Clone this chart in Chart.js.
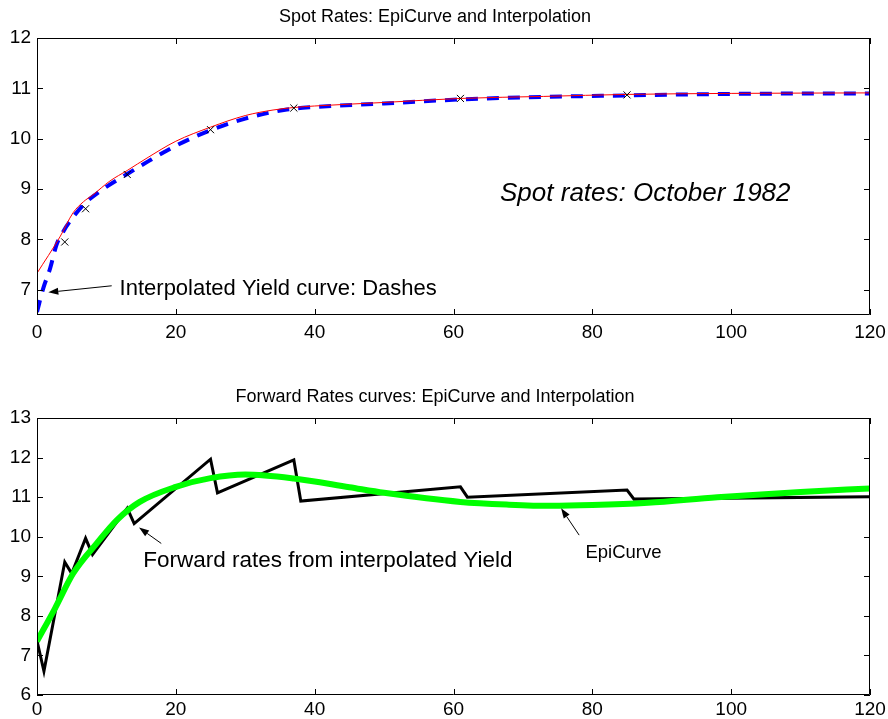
<!DOCTYPE html>
<html>
<head>
<meta charset="utf-8">
<script src="https://cdn.jsdelivr.net/npm/chart.js@4.4.0/dist/chart.umd.min.js"></script>
<style>
  body { margin: 0; background: #fff; }
  .wrap { position: absolute; left: 0; width: 888px; }
  #spotWrap { top: 0; height: 350px; }
  #fwdWrap { top: 350px; height: 369px; }
</style>
</head>
<body>
<div class="wrap" id="spotWrap"><canvas id="spotChart"></canvas></div>
<div class="wrap" id="fwdWrap"><canvas id="fwdChart"></canvas></div>
<script>
// maturities in months, rates in percent
const marketT = [4, 7, 13, 25, 37, 61, 85];
const marketRate = [7.95, 8.61, 9.29, 10.18, 10.61, 10.80, 10.87];

const epiSpotT = [0, 3.3, 5.2, 6.7, 8, 10.5, 13, 16, 20, 25, 30, 34, 37, 40, 50, 61, 73, 85, 100, 120];
const epiSpotRate = [7.33, 8.05, 8.53, 8.75, 8.88, 9.16, 9.37, 9.63, 9.95, 10.23, 10.46, 10.57, 10.62, 10.65, 10.72, 10.80, 10.84, 10.88, 10.90, 10.91];

const interpSpotT = [0, 0.9, 1.9, 2.8, 3.8, 4.75, 6.7, 9.1, 13, 16, 20, 25, 30, 36, 40, 50, 61, 73, 85, 100, 120];
const interpSpotRate = [6.56, 7.03, 7.43, 7.89, 8.16, 8.36, 8.69, 8.96, 9.30, 9.55, 9.86, 10.17, 10.40, 10.58, 10.63, 10.70, 10.78, 10.83, 10.86, 10.89, 10.90];

const epiFwdT = [0, 1, 4, 5, 7, 8, 13, 14, 25, 26, 37, 38, 61, 62, 85, 86, 120];
const epiFwdRate = [7.37, 6.60, 9.36, 9.07, 9.96, 9.55, 10.72, 10.33, 11.96, 11.11, 11.94, 10.90, 11.26, 11.00, 11.18, 10.95, 11.01];

const interpFwdT = [0, 2.6, 5.2, 8.6, 11.5, 14.8, 20, 25, 30, 37, 45, 50, 61, 68, 74, 80, 88, 98, 110, 120];
const interpFwdRate = [7.36, 8.19, 9.07, 9.83, 10.42, 10.88, 11.26, 11.48, 11.57, 11.47, 11.25, 11.11, 10.88, 10.81, 10.78, 10.80, 10.86, 11.00, 11.13, 11.22];

const xTicks = [0, 20, 40, 60, 80, 100, 120];
const spotYTicks = [7, 8, 9, 10, 11, 12];
const fwdYTicks = [6, 7, 8, 9, 10, 11, 12, 13];

const FONT = '"Liberation Sans", Arial, Helvetica, sans-serif';

function pts(xs, ys) {
  return xs.map((x, i) => ({ x: x, y: ys[i] }));
}

// matlab-style box with inward ticks on all four sides
const axesBox = {
  id: 'axesBox',
  afterDraw(chart) {
    const { ctx, chartArea: a, scales: { x, y } } = chart;
    const len = 6;
    ctx.save();
    ctx.strokeStyle = '#000';
    ctx.lineWidth = 1;
    ctx.beginPath();
    ctx.rect(Math.round(a.left) + 0.5, Math.round(a.top) + 0.5, Math.round(a.width) - 1, Math.round(a.height) - 1);
    x.ticks.forEach(t => {
      const px = Math.round(x.getPixelForValue(t.value)) + 0.5;
      ctx.moveTo(px, a.bottom); ctx.lineTo(px, a.bottom - len);
      ctx.moveTo(px, a.top); ctx.lineTo(px, a.top + len);
    });
    y.ticks.forEach(t => {
      const py = Math.round(y.getPixelForValue(t.value)) + 0.5;
      ctx.moveTo(a.left, py); ctx.lineTo(a.left + len, py);
      ctx.moveTo(a.right, py); ctx.lineTo(a.right - len, py);
    });
    ctx.stroke();
    ctx.restore();
  }
};

// free text and arrows placed in data units
const notes = {
  id: 'notes',
  afterDatasetsDraw(chart, args, opts) {
    const { ctx, scales: { x, y } } = chart;
    ctx.save();
    (opts.arrows || []).forEach(ar => {
      const x0 = x.getPixelForValue(ar.from[0]), y0 = y.getPixelForValue(ar.from[1]);
      const x1 = x.getPixelForValue(ar.to[0]), y1 = y.getPixelForValue(ar.to[1]);
      const ang = Math.atan2(y1 - y0, x1 - x0);
      const hl = 10, hw = 3.5;
      ctx.strokeStyle = '#000';
      ctx.fillStyle = '#000';
      ctx.lineWidth = 1;
      ctx.beginPath();
      ctx.moveTo(x0, y0);
      ctx.lineTo(x1 - hl * Math.cos(ang), y1 - hl * Math.sin(ang));
      ctx.stroke();
      ctx.beginPath();
      ctx.moveTo(x1, y1);
      ctx.lineTo(x1 - hl * Math.cos(ang) + hw * Math.sin(ang), y1 - hl * Math.sin(ang) - hw * Math.cos(ang));
      ctx.lineTo(x1 - hl * Math.cos(ang) - hw * Math.sin(ang), y1 - hl * Math.sin(ang) + hw * Math.cos(ang));
      ctx.closePath();
      ctx.fill();
    });
    (opts.texts || []).forEach(t => {
      ctx.font = t.font;
      ctx.fillStyle = '#000';
      ctx.textAlign = 'left';
      ctx.textBaseline = 'middle';
      ctx.fillText(t.text, x.getPixelForValue(t.at[0]), y.getPixelForValue(t.at[1]));
    });
    ctx.restore();
  }
};

function baseOptions(title, titlePad, yMin, yMax, yTicks, xHeight, xPad) {
  return {
    responsive: true,
    maintainAspectRatio: false,
    animation: false,
    layout: { padding: { left: 0, right: 18, top: 0, bottom: 0 } },
    plugins: {
      legend: { display: false },
      tooltip: { enabled: false },
      title: {
        display: true,
        text: title,
        color: '#000',
        font: { family: FONT, size: 18, weight: 'normal' },
        padding: titlePad
      }
    },
    scales: {
      x: {
        type: 'linear',
        min: 0,
        max: 120,
        afterBuildTicks: s => { s.ticks = xTicks.map(v => ({ value: v })); },
        afterFit: s => { s.height = xHeight; s.paddingLeft = 0; s.paddingRight = 0; },
        grid: { display: false, drawTicks: false },
        border: { display: false },
        ticks: { color: '#000', padding: xPad, maxRotation: 0, font: { family: FONT, size: 19 } }
      },
      y: {
        min: yMin,
        max: yMax,
        afterBuildTicks: s => { s.ticks = yTicks.map(v => ({ value: v })); },
        afterFit: s => { s.width = 37; s.paddingTop = 0; s.paddingBottom = 0; },
        grid: { display: false, drawTicks: false },
        border: { display: false },
        ticks: { color: '#000', padding: 6, font: { family: FONT, size: 19 } }
      }
    }
  };
}

const spotOpts = baseOptions('Spot Rates: EpiCurve and Interpolation', { top: 6.7, bottom: 9.7 }, 6.5, 12, spotYTicks, 35, 6);
spotOpts.plugins.notes = {
  texts: [
    { text: 'Interpolated Yield curve: Dashes', at: [11.9, 7.02], font: '22px ' + FONT },
    { text: 'Spot rates: October 1982', at: [66.7, 8.9], font: 'italic 26px ' + FONT }
  ],
  arrows: [
    { from: [10.76, 7.08], to: [1.63, 6.95] }
  ]
};

new Chart(document.getElementById('spotChart'), {
  type: 'line',
  data: {
    datasets: [
      {
        label: 'Market',
        data: pts(marketT, marketRate),
        showLine: false,
        pointStyle: 'crossRot',
        pointRadius: 5,
        pointBorderColor: '#000',
        pointBorderWidth: 1,
        order: 0
      },
      {
        label: 'EpiCurve',
        data: pts(epiSpotT, epiSpotRate),
        borderColor: '#ff0000',
        borderWidth: 1,
        pointRadius: 0,
        cubicInterpolationMode: 'monotone',
        order: 1
      },
      {
        label: 'Interpolated',
        data: pts(interpSpotT, interpSpotRate),
        borderColor: '#0000ff',
        borderWidth: 4,
        borderDash: [12, 9],
        pointRadius: 0,
        cubicInterpolationMode: 'monotone',
        order: 2
      }
    ]
  },
  options: spotOpts,
  plugins: [axesBox, notes]
});

const fwdOpts = baseOptions('Forward Rates curves: EpiCurve and Interpolation', { top: 36.2, bottom: 10.2 }, 6, 13, fwdYTicks, 24, 3);
fwdOpts.plugins.notes = {
  texts: [
    { text: 'Forward rates from interpolated Yield', at: [15.3, 9.39], font: '22.5px ' + FONT },
    { text: 'EpiCurve', at: [79, 9.59], font: '18.5px ' + FONT }
  ],
  arrows: [
    { from: [17.9, 9.83], to: [14.7, 10.23] },
    { from: [78.1, 10.04], to: [75.5, 10.72] }
  ]
};

new Chart(document.getElementById('fwdChart'), {
  type: 'line',
  data: {
    datasets: [
      {
        label: 'Interpolated',
        data: pts(interpFwdT, interpFwdRate),
        borderColor: '#00ff00',
        borderWidth: 6,
        pointRadius: 0,
        cubicInterpolationMode: 'monotone',
        order: 0
      },
      {
        label: 'EpiCurve',
        data: pts(epiFwdT, epiFwdRate),
        borderColor: '#000',
        borderWidth: 3,
        pointRadius: 0,
        tension: 0,
        order: 1
      }
    ]
  },
  options: fwdOpts,
  plugins: [axesBox, notes]
});
</script>
</body>
</html>
